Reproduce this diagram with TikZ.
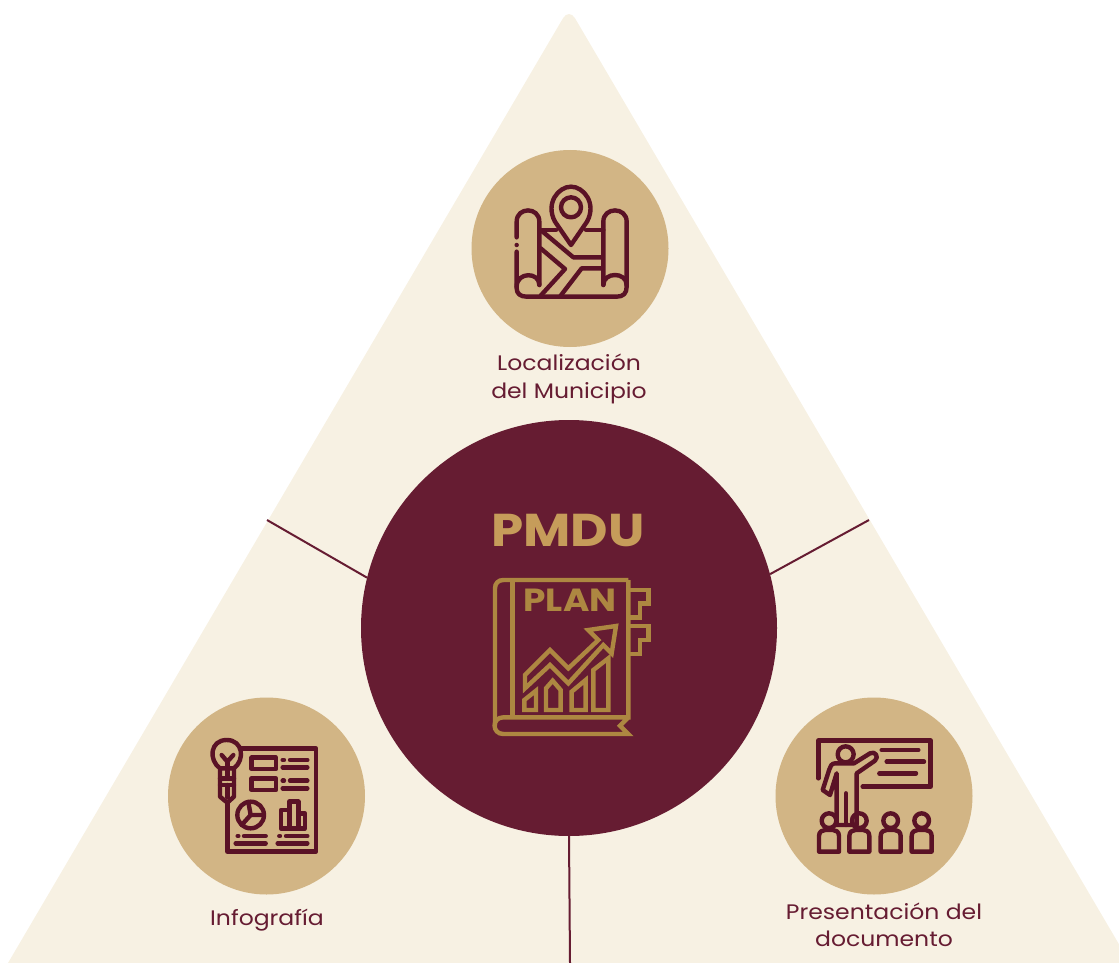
\documentclass[tikz,border=0pt]{standalone}
\usepackage{fontspec}
\setmainfont{Poppins}
\newfontfamily\widefont{Poppins}[FakeStretch=1.12]
\definecolor{cream}{HTML}{F7F1E3}
\definecolor{sand}{HTML}{D2B585}
\definecolor{maroon}{HTML}{661C32}
\definecolor{gold}{HTML}{C69C5A}
\definecolor{bronze}{HTML}{AD8741}
\definecolor{iconred}{HTML}{5A1226}
\tikzset{
  disc/.style={circle,fill=sand,draw=none,inner sep=0pt,minimum size=#1},
  hubdisc/.style={circle,fill=maroon,draw=none,inner sep=0pt,minimum size=416pt},
  caption/.style={text=maroon,align=center,inner sep=0pt,font=\widefont\fontsize{21}{27.5}\selectfont},
  link/.style={draw=maroon,line width=2pt},
  iconline/.style={draw=iconred,line width=4.4pt,line join=round,line cap=round},
  planline/.style={draw=bronze,line width=4.4pt,line join=miter},
  zoomed/.style={shift={(#1)},x=1/3*1pt,y=-1/3*1pt}
}
\begin{document}
\begin{tikzpicture}[x=1pt,y=-1pt]
\useasboundingbox (0,0) rectangle (1119,963);
\fill[cream] (0,963) -- (8,963) [rounded corners=12pt] -- (569,8) [sharp corners] -- (1130,963) -- cycle;
\node[hubdisc] (hub) at (569,628) {};
\node[disc=197pt] (top) at (570,248.5) {};
\node[disc=197pt] (left) at (266.5,796) {};
\node[disc=197pt] (right) at (874,796) {};
\coordinate (lend) at (267,520);
\coordinate (rend) at (869,520);
\coordinate (bend) at (570,963);
\draw[link] (hub.166) -- (lend);
\draw[link] (hub.15) -- (rend);
\draw[link] (hub.south) -- (bend);

\node[caption] (ltop) at (569,379) {Localización\\del Municipio};
\node[caption] (lleft) at (267,920) {Infografía};
\node[caption] (lright) at (884,925) {Presentación del\\documento};
\node[text=gold,inner sep=0pt,font=\widefont\fontsize{46}{46}\selectfont\bfseries] (title) at (568,531) {PMDU};

% map icon
\begin{scope}[zoomed={470,150},iconline]
\draw (303,172) circle (30);
\draw (303,285) -- (255,215) .. controls (225,160) and (265,110) .. (303,110) .. controls (341,110) and (381,160) .. (351,215) -- cycle;
\draw (140,262) -- (140,215) .. controls (140,170) and (208,170) .. (208,215) -- (208,405);
\draw (140,285) -- (140,285);
\draw (140,305) -- (140,415) .. controls (140,430) and (150,440) .. (170,440) -- (440,440) .. controls (460,440) and (470,430) .. (470,410) -- (470,215) .. controls (470,170) and (400,170) .. (400,215) -- (400,405);
\draw (140,410) .. controls (140,365) and (208,365) .. (208,405);
\draw (400,405) .. controls (400,365) and (470,365) .. (470,405);
\draw (208,240) -- (258,240);
\draw (348,240) -- (400,240);
\draw (218,245) -- (310,322) -- (395,322);
\draw (212,295) -- (285,357) -- (212,437);
\draw (398,355) -- (335,355) -- (272,437);
\end{scope}

% plan icon
\begin{scope}[zoomed={470,560},planline]
\draw (475,60) -- (100,60) .. controls (85,60) and (75,70) .. (75,85) -- (75,497);
\draw (128,60) -- (128,472);
\draw (475,60) -- (475,472) -- (100,472) .. controls (65,472) and (65,522) .. (100,522) -- (475,522) -- (450,497) -- (475,472);
\draw (480,90) -- (535,90) -- (535,130) -- (510,130) -- (510,172) -- (480,172);
\draw (480,198) -- (535,198) -- (535,240) -- (510,240) -- (510,282) -- (480,282);
\draw (165,345) -- (240,270) -- (295,325) -- (385,240) -- (355,210) -- (438,198) -- (425,280) -- (400,255) -- (295,370) -- (240,315) -- (165,385) -- cycle;
\draw (163,450) -- (163,420) -- (198,392) -- (198,450) -- cycle;
\draw (228,450) -- (228,385) -- (248,362) -- (272,390) -- (272,450) -- cycle;
\draw (305,450) -- (305,395) -- (347,360) -- (347,450) -- cycle;
\draw (370,450) -- (370,330) -- (415,295) -- (415,450) -- cycle;
\node[text=bronze,inner sep=0pt,font=\widefont\fontsize{32}{32}\selectfont\bfseries] (plan) at (300,120) {PLAN};
\end{scope}

% infographic icon
\begin{scope}[zoomed={170,710},iconline]
\draw (215,115) -- (438,115) -- (438,425) -- (172,425) -- (172,280);
\draw (150,175) .. controls (115,150) and (120,90) .. (170,90) .. controls (220,90) and (225,150) .. (192,175);
\draw (155,135) -- (172,155) -- (190,135);
\draw (172,155) -- (172,200);
\draw (150,175) -- (150,260) -- (172,278) -- (192,260) -- (192,175) -- cycle;
\draw (150,205) -- (192,205);
\draw (150,225) -- (192,225);
\draw (172,225) -- (172,262);
\draw (245,143) rectangle (318,177);
\draw (245,205) rectangle (318,240);
\draw (338,150) -- (342,150);
\draw (360,150) -- (412,150);
\draw (338,172) -- (412,172);
\draw (338,212) -- (342,212);
\draw (360,212) -- (412,212);
\draw (338,235) -- (412,235);
\draw (242,315) circle (40);
\draw (235,276) -- (242,315) -- (281,315);
\draw (242,315) -- (215,345);
\draw (333,355) -- (333,300) -- (358,300) -- (358,275) -- (385,275) -- (385,310) -- (405,310) -- (405,355) -- cycle;
\draw (358,300) -- (358,355);
\draw (385,310) -- (385,355);
\draw (203,378) -- (205,378);
\draw (222,378) -- (287,378);
\draw (197,400) -- (287,400);
\draw (328,378) -- (330,378);
\draw (348,378) -- (412,378);
\draw (323,400) -- (412,400);
\end{scope}

% presentation icon
\begin{scope}[zoomed={780,710},iconline]
\draw (115,205) -- (115,92) -- (452,92) -- (452,230) -- (248,230);
\draw (305,120) -- (415,120);
\draw (320,155) -- (432,155);
\draw (298,190) -- (408,190);
\draw (197,133) circle (24);
\draw (230,345) -- (230,190) -- (285,152) .. controls (298,140) and (285,122) .. (270,130) -- (222,160) -- (165,160) .. controls (155,160) and (150,170) .. (148,178) -- (128,240) -- (150,255) -- (170,190) -- (170,345) -- cycle;
\draw (198,250) -- (198,345);
\foreach \cx in {147,238,332,425}{
  \draw (\cx,332) circle (22);
  \draw (\cx-30,425) -- (\cx-30,378) .. controls (\cx-30,365) and (\cx-20,360) .. (\cx-12,360) -- (\cx+12,360) .. controls (\cx+20,360) and (\cx+30,365) .. (\cx+30,378) -- (\cx+30,425) -- cycle;
}
\end{scope}
\end{tikzpicture}
\end{document}
